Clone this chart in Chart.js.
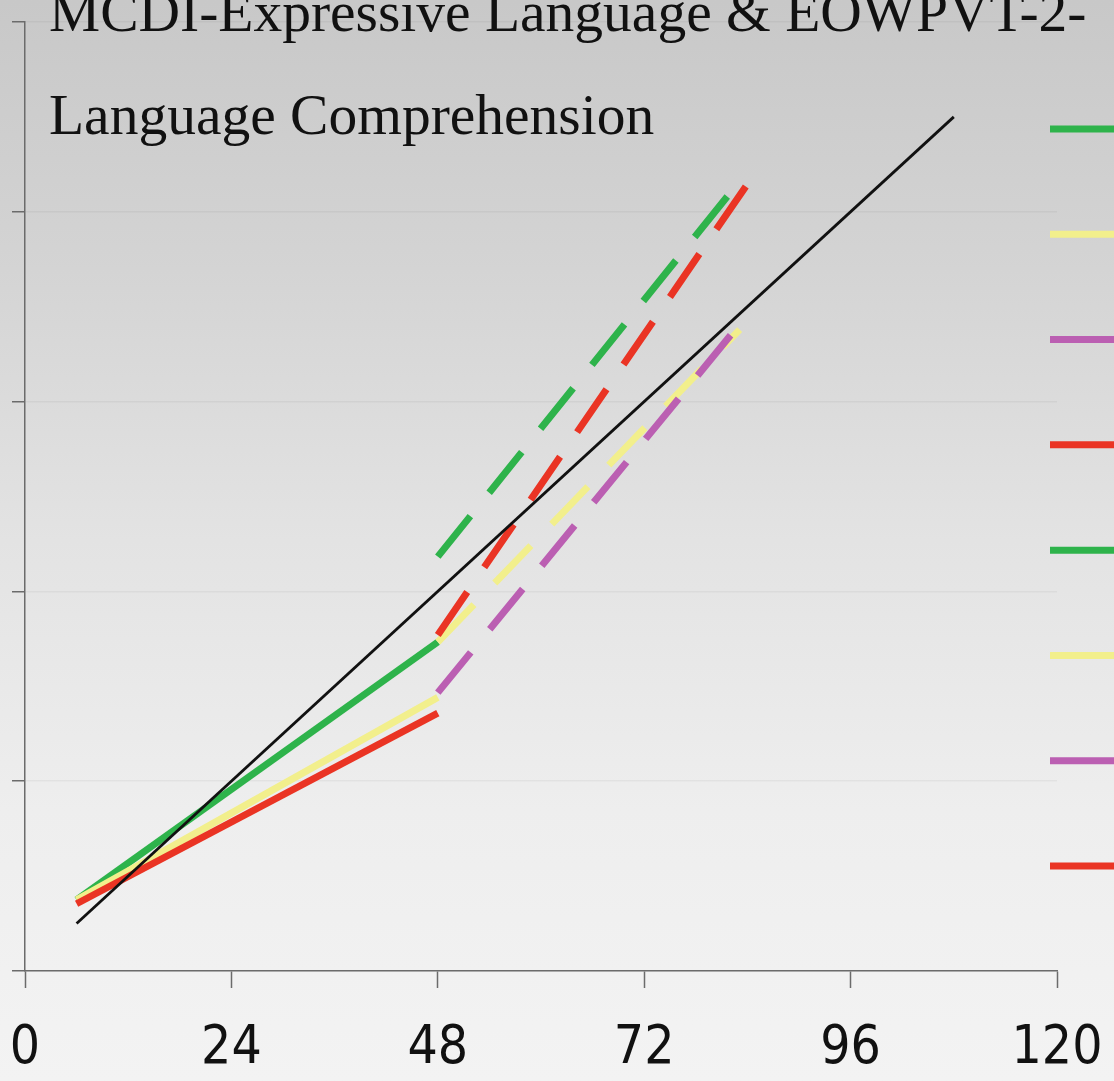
<!DOCTYPE html>
<html>
<head>
<meta charset="utf-8">
<script src="https://cdn.jsdelivr.net/npm/chart.js@4.4.1/dist/chart.umd.min.js"></script>
<style>
  html, body { margin: 0; padding: 0; width: 1114px; height: 1081px; overflow: hidden; }
  body { background: linear-gradient(to bottom, #c8c8c8 0%, #d4d4d4 25%, #e3e3e3 50%, #eeeeee 75%, #f3f3f3 100%); }
  #chart { display: block; }
</style>
</head>
<body>
<canvas id="chart" width="1200" height="1110"></canvas>
<script>
// Age axis (months) and the hidden value axis
const xTicks = [0, 24, 48, 72, 96, 120]
const yTicks = [0, 24, 48, 72, 96, 120]
const titleLines = ["MCDI-Expressive Language & EOWPVT-2-", "Language Comprehension"]

// reference line: score age = chronological age
const refAges = [6, 108]
const refValues = [6, 108]

// solid series, 6 to 48 months
const solidAges = [6, 48]
const greenSolid = [9, 41.6]
const yellowSolid = [9, 34.6]
const purpleSolid = []
const redSolid = [8.5, 32.6]

// dashed series, from 48 months on
const greenDashAges = [48, 82.3]
const greenDashed = [52.4, 98.8]
const yellowDashAges = [48, 83.1]
const yellowDashed = [41.6, 81.1]
const purpleDashAges = [48, 82.5]
const purpleDashed = [35.2, 81]
const redDashAges = [48, 84]
const redDashed = [42.5, 99.5]

const GREEN = "#2eb34b"
const YELLOW = "#f2ef8c"
const PURPLE = "#bb5fb2"
const RED = "#ea3424"
const DASH = [52, 30]

function points(ages, values) {
  return values.map((v, i) => ({ x: ages[i], y: v }))
}

function series(label, ages, values, color, dashed, order) {
  return {
    label: label,
    data: points(ages, values),
    borderColor: color,
    backgroundColor: color,
    borderWidth: 7,
    borderDash: dashed ? DASH : [],
    pointRadius: 0,
    tension: 0,
    order: order,
  }
}

// draws the two-line heading in the top left corner
const headingPlugin = {
  id: "heading",
  afterLayout(chart) {
    // legend samples start a little left of the axis end
    chart.legend.left -= 7
    chart.legend.right -= 7
    chart.legend.top += 2
  },
  afterDraw(chart) {
    const ctx = chart.ctx
    ctx.save()
    ctx.font = "57.5px 'Liberation Serif', 'Times New Roman', serif"
    ctx.fillStyle = "#111"
    ctx.textBaseline = "alphabetic"
    titleLines.forEach((line, i) => ctx.fillText(line, 49, 31 + i * 103))
    ctx.restore()
  },
}

const axisColor = "#6b6b6b"

new Chart(document.getElementById("chart"), {
  type: "line",
  data: {
    datasets: [
      {
        label: "reference",
        data: points(refAges, refValues),
        borderColor: "#111",
        borderWidth: 2.8,
        pointRadius: 0,
        tension: 0,
        order: 0,
      },
      series("green", solidAges, greenSolid, GREEN, false, 8),
      series("yellow", solidAges, yellowSolid, YELLOW, false, 7),
      series("purple", solidAges, purpleSolid, PURPLE, false, 6),
      series("red", solidAges, redSolid, RED, false, 5),
      series("green dashed", greenDashAges, greenDashed, GREEN, true, 4),
      series("yellow dashed", yellowDashAges, yellowDashed, YELLOW, true, 3),
      series("purple dashed", purpleDashAges, purpleDashed, PURPLE, true, 2),
      series("red dashed", redDashAges, redDashed, RED, true, 1),
    ],
  },
  options: {
    responsive: false,
    animation: false,
    layout: {
      padding: { top: 22, left: 12, right: 0, bottom: 0 },
    },
    plugins: {
      title: { display: false },
      tooltip: { enabled: false },
      legend: {
        position: "right",
        align: "center",
        fullSize: false,
        maxWidth: 143,
        labels: {
          usePointStyle: true,
          pointStyle: "line",
          pointStyleWidth: 90,
          padding: 0,
          font: { size: 105.3 },
          sort: (a, b) => a.datasetIndex - b.datasetIndex,
          generateLabels: (chart) =>
            Chart.defaults.plugins.legend.labels
              .generateLabels(chart)
              .filter((item) => item.datasetIndex !== 0)
              .map((item) => Object.assign(item, { text: "" })),
        },
      },
    },
    scales: {
      x: {
        type: "linear",
        min: 0,
        max: 120,
        afterBuildTicks: (axis) => {
          axis.ticks = xTicks.map((v) => ({ value: v }))
        },
        ticks: {
          color: "#111",
          padding: 0,
          maxRotation: 0,
          autoSkip: false,
          font: { family: "'DejaVu Sans Condensed', 'DejaVu Sans', sans-serif", size: 53, lineHeight: "122px" },
        },
        grid: { drawOnChartArea: false, tickLength: 17, tickColor: axisColor, tickWidth: 1.5 },
        border: { color: axisColor, width: 1.5 },
      },
      y: {
        type: "linear",
        min: 0,
        max: 120,
        afterBuildTicks: (axis) => {
          axis.ticks = yTicks.map((v) => ({ value: v }))
        },
        ticks: { display: false },
        grid: { color: "rgba(0,0,0,0.045)", lineWidth: 1.5, tickLength: 13, tickColor: axisColor, tickWidth: 1.5 },
        border: { color: axisColor, width: 1.5 },
      },
    },
  },
  plugins: [headingPlugin],
})
</script>
</body>
</html>
